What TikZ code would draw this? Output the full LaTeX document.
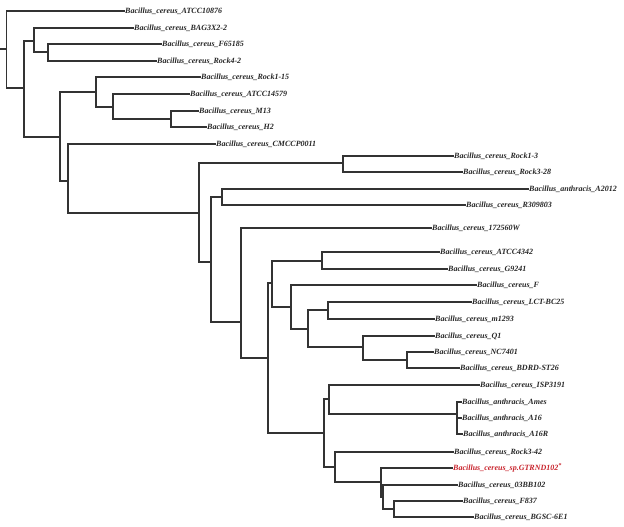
\documentclass[tikz,border=0pt]{standalone}
\usepackage{fontspec}
\setmainfont{Liberation Serif}
\usepackage{tikz}
\usepackage{xcolor}
\definecolor{strainred}{HTML}{C8232C}

\begin{document}
\begin{tikzpicture}[x=1pt, y=-1pt,
    taxon/.style={anchor=west, inner sep=1pt, text=black!85,
        font=\fontsize{8}{9}\selectfont\bfseries\itshape},
    branch/.style={line width=1.1pt, draw=black!80, line cap=rect}]
\useasboundingbox (0,0) rectangle (624,527);

% leaves
\node[taxon] (atcc10876) at (124,11)  {Bacillus\_cereus\_ATCC10876};
\node[taxon] (bag3x2)    at (133,28)  {Bacillus\_cereus\_BAG3X2-2};
\node[taxon] (f65185)    at (161,44)  {Bacillus\_cereus\_F65185};
\node[taxon] (rock42)    at (156,61)  {Bacillus\_cereus\_Rock4-2};
\node[taxon] (rock115)   at (200,77)  {Bacillus\_cereus\_Rock1-15};
\node[taxon] (atcc14579) at (189,94)  {Bacillus\_cereus\_ATCC14579};
\node[taxon] (m13)       at (198,111) {Bacillus\_cereus\_M13};
\node[taxon] (h2)        at (206,127) {Bacillus\_cereus\_H2};
\node[taxon] (cmccp)     at (215,144) {Bacillus\_cereus\_CMCCP0011};
\node[taxon] (rock13)    at (453,156) {Bacillus\_cereus\_Rock1-3};
\node[taxon] (rock328)   at (462,172) {Bacillus\_cereus\_Rock3-28};
\node[taxon] (a2012)     at (528,189) {Bacillus\_anthracis\_A2012};
\node[taxon] (r309803)   at (465,205) {Bacillus\_cereus\_R309803};
\node[taxon] (w172560)   at (431,228) {Bacillus\_cereus\_172560W};
\node[taxon] (atcc4342)  at (439,252) {Bacillus\_cereus\_ATCC4342};
\node[taxon] (g9241)     at (447,269) {Bacillus\_cereus\_G9241};
\node[taxon] (cf)        at (476,285) {Bacillus\_cereus\_F};
\node[taxon] (lctbc25)   at (471,302) {Bacillus\_cereus\_LCT-BC25};
\node[taxon] (m1293)     at (434,319) {Bacillus\_cereus\_m1293};
\node[taxon] (q1)        at (434,336) {Bacillus\_cereus\_Q1};
\node[taxon] (nc7401)    at (433,352) {Bacillus\_cereus\_NC7401};
\node[taxon] (bdrd)      at (459,368) {Bacillus\_cereus\_BDRD-ST26};
\node[taxon] (isp3191)   at (479,385) {Bacillus\_cereus\_ISP3191};
\node[taxon] (ames)      at (461,402) {Bacillus\_anthracis\_Ames};
\node[taxon] (a16)       at (461,418) {Bacillus\_anthracis\_A16};
\node[taxon] (a16r)      at (462,434) {Bacillus\_anthracis\_A16R};
\node[taxon] (rock342)   at (453,452) {Bacillus\_cereus\_Rock3-42};
\node[taxon, text=strainred] (gtrnd) at (452,468) {Bacillus\_cereus\_sp.GTRND102\textsuperscript{*}};
\node[taxon] (bb102)     at (457,485) {Bacillus\_cereus\_03BB102};
\node[taxon] (f837)      at (462,501) {Bacillus\_cereus\_F837};
\node[taxon] (bgsc)      at (473,517) {Bacillus\_cereus\_BGSC-6E1};

% internal nodes
\coordinate (base) at (0,49);
\coordinate (r)   at (6.5,49);
\coordinate (n1)  at (24,88);
\coordinate (n2)  at (34,41);
\coordinate (n3)  at (48,52);
\coordinate (n4)  at (60,137);
\coordinate (n5)  at (96,92);
\coordinate (n6)  at (113,107);
\coordinate (n7)  at (171,119);
\coordinate (n8)  at (68,181);
\coordinate (n9)  at (199,213);
\coordinate (n10) at (343,163);
\coordinate (n11) at (211,262);
\coordinate (n12) at (222,197);
\coordinate (n13) at (241,322);
\coordinate (n14) at (268,358);
\coordinate (n15) at (272,283);
\coordinate (n16) at (322,261);
\coordinate (n17) at (291,307);
\coordinate (n18) at (308,329);
\coordinate (n19) at (328,310);
\coordinate (n20) at (363,347);
\coordinate (n21) at (407,360);
\coordinate (n22) at (324,433);
\coordinate (n23) at (329,399);
\coordinate (n24) at (457,414);
\coordinate (n25) at (335,467);
\coordinate (n26) at (381,482);
\coordinate (n27) at (383,497);
\coordinate (n28) at (394,509);

% branches
\draw[branch] (base) -- (r);
\draw[branch] (r) |- (atcc10876.west);
\draw[branch] (r) |- (n1);
\draw[branch] (n1) |- (n2);
\draw[branch] (n1) |- (n4);
\draw[branch] (n2) |- (bag3x2.west);
\draw[branch] (n2) |- (n3);
\draw[branch] (n3) |- (f65185.west);
\draw[branch] (n3) |- (rock42.west);
\draw[branch] (n4) |- (n5);
\draw[branch] (n4) |- (n8);
\draw[branch] (n5) |- (rock115.west);
\draw[branch] (n5) |- (n6);
\draw[branch] (n6) |- (atcc14579.west);
\draw[branch] (n6) |- (n7);
\draw[branch] (n7) |- (m13.west);
\draw[branch] (n7) |- (h2.west);
\draw[branch] (n8) |- (cmccp.west);
\draw[branch] (n8) |- (n9);
\draw[branch] (n9) |- (n10);
\draw[branch] (n9) |- (n11);
\draw[branch] (n10) |- (rock13.west);
\draw[branch] (n10) |- (rock328.west);
\draw[branch] (n11) |- (n12);
\draw[branch] (n11) |- (n13);
\draw[branch] (n12) |- (a2012.west);
\draw[branch] (n12) |- (r309803.west);
\draw[branch] (n13) |- (w172560.west);
\draw[branch] (n13) |- (n14);
\draw[branch] (n14) |- (n15);
\draw[branch] (n14) |- (n22);
\draw[branch] (n15) |- (n16);
\draw[branch] (n15) |- (n17);
\draw[branch] (n16) |- (atcc4342.west);
\draw[branch] (n16) |- (g9241.west);
\draw[branch] (n17) |- (cf.west);
\draw[branch] (n17) |- (n18);
\draw[branch] (n18) |- (n19);
\draw[branch] (n18) |- (n20);
\draw[branch] (n19) |- (lctbc25.west);
\draw[branch] (n19) |- (m1293.west);
\draw[branch] (n20) |- (q1.west);
\draw[branch] (n20) |- (n21);
\draw[branch] (n21) |- (nc7401.west);
\draw[branch] (n21) |- (bdrd.west);
\draw[branch] (n22) |- (n23);
\draw[branch] (n22) |- (n25);
\draw[branch] (n23) |- (isp3191.west);
\draw[branch] (n23) |- (n24);
\draw[branch] (n24) |- (ames.west);
\draw[branch] (n24) |- (a16.west);
\draw[branch] (n24) |- (a16r.west);
\draw[branch] (n25) |- (rock342.west);
\draw[branch] (n25) |- (n26);
\draw[branch] (n26) |- (gtrnd.west);
\draw[branch] (n26) |- (n27);
\draw[branch] (n27) |- (bb102.west);
\draw[branch] (n27) |- (n28);
\draw[branch] (n28) |- (f837.west);
\draw[branch] (n28) |- (bgsc.west);
\end{tikzpicture}
\end{document}
